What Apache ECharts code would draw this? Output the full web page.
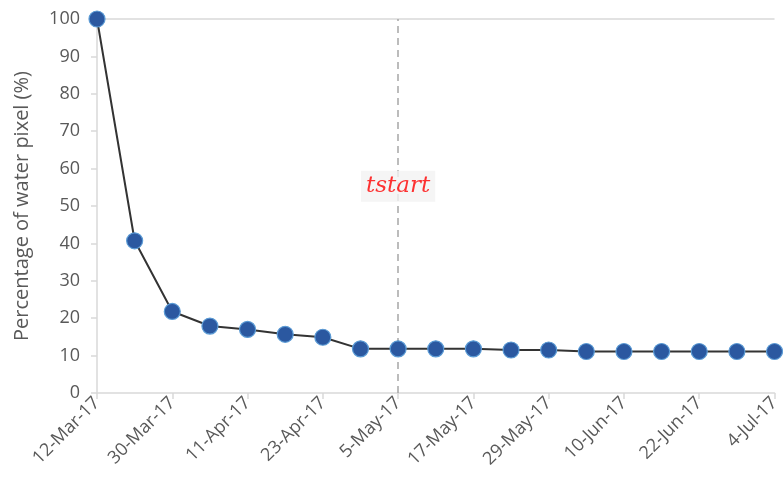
<!DOCTYPE html>
<html>
<head>
<meta charset="utf-8">
<script src="https://cdn.jsdelivr.net/npm/echarts@6/dist/echarts.min.js"></script>
<style>html,body{margin:0;padding:0;background:#fff;}#c{width:783px;height:484px;}</style>
</head>
<body>
<div id="c"></div>
<script>
const categories = ['12-Mar-17','24-Mar-17','30-Mar-17','5-Apr-17','11-Apr-17','17-Apr-17','23-Apr-17','29-Apr-17','5-May-17','11-May-17','17-May-17','23-May-17','29-May-17','4-Jun-17','10-Jun-17','16-Jun-17','22-Jun-17','28-Jun-17','4-Jul-17'];
const waterPct = [100, 40.7, 21.8, 17.9, 17.0, 15.7, 14.9, 11.8, 11.8, 11.8, 11.8, 11.5, 11.5, 11.1, 11.1, 11.1, 11.1, 11.1, 11.1];
const tstartCategory = '5-May-17';
const tstartLabelY = 55.3;
const yTitle = 'Percentage of water pixel (%)';

const chart = echarts.init(document.getElementById('c'));
const gray = '#595959';
chart.setOption({
  animation: false,
  grid: {left: 97, right: 0, top: 19, bottom: 91},
  xAxis: {
    type: 'category',
    data: categories,
    boundaryGap: false,
    axisLine: {lineStyle: {color: '#d9d9d9', width: 1.5}},
    axisTick: {show: true, interval: 1, length: 6, lineStyle: {color: '#d9d9d9', width: 1.5}},
    axisLabel: {interval: 1, rotate: 45, color: gray, fontSize: 18, fontFamily: 'Open Sans', margin: 7},
    splitLine: {show: false}
  },
  yAxis: {
    type: 'value',
    min: 0, max: 100, interval: 10,
    name: yTitle,
    nameLocation: 'middle',
    nameGap: 65,
    nameTextStyle: {color: gray, fontSize: 20, fontFamily: 'Open Sans'},
    axisLine: {show: true, lineStyle: {color: '#d9d9d9', width: 1.5}},
    axisTick: {show: true, length: 6, lineStyle: {color: '#d9d9d9', width: 1.5}},
    axisLabel: {color: gray, fontSize: 18, fontFamily: 'Open Sans', margin: 17},
    splitLine: {show: false}
  },
  series: [
    {
      type: 'line',
      data: waterPct,
      symbol: 'circle',
      symbolSize: 16,
      clip: false,
      lineStyle: {color: '#333333', width: 2},
      itemStyle: {color: '#2b58a0', borderColor: '#5b9bd5', borderWidth: 1.2},
      z: 5
    },
    {
      type: 'scatter',
      data: [[tstartCategory, tstartLabelY]],
      symbolSize: 0,
      z: 10,
      label: {
        show: true,
        position: 'inside',
        formatter: 'tstart',
        color: '#ff0000',
        fontFamily: 'DejaVu Serif',
        fontStyle: 'italic',
        fontSize: 23,
        backgroundColor: '#f2f2f2',
        padding: [4, 5, 4, 5]
      },
      markLine: {
        silent: true,
        symbol: 'none',
        label: {show: false},
        data: [
          {yAxis: 100, lineStyle: {color: '#d9d9d9', type: 'solid', width: 1.5}},
          {xAxis: tstartCategory, lineStyle: {color: '#a6a6a6', type: [7, 5], width: 1.5}}
        ]
      }
    }
  ]
});
</script>
</body>
</html>
